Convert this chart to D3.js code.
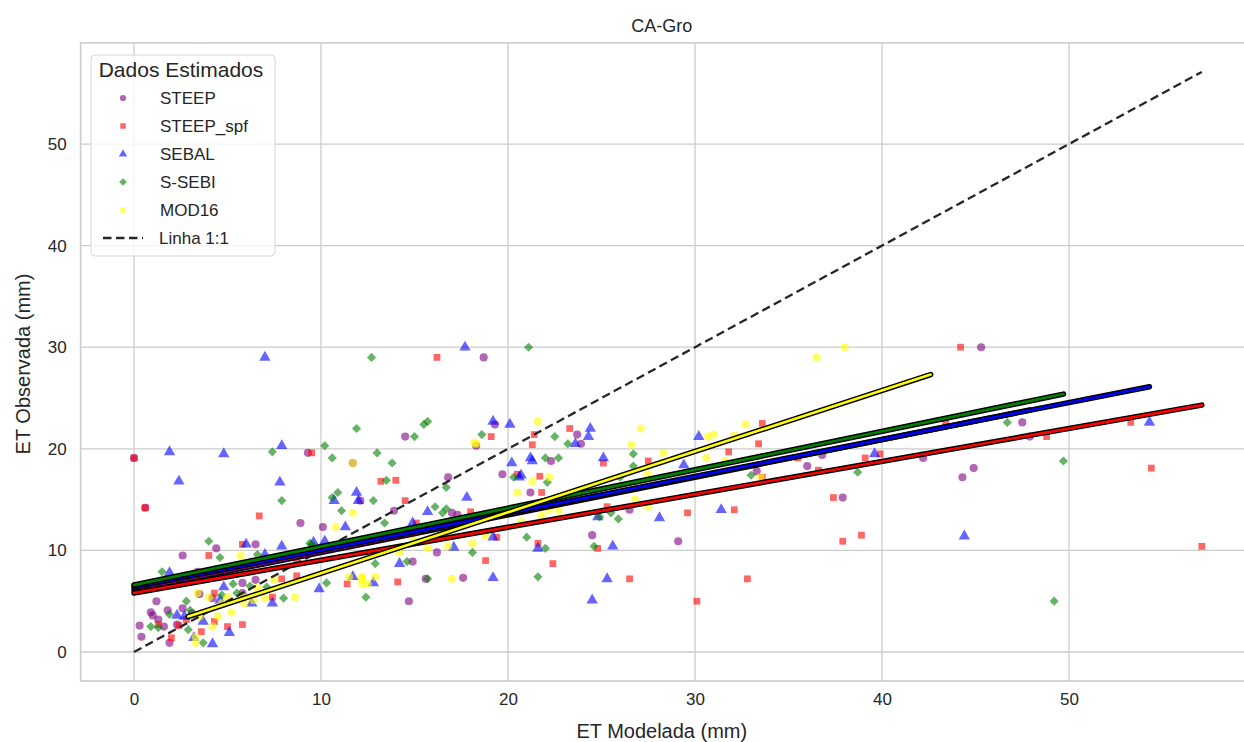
<!DOCTYPE html>
<html>
<head>
<meta charset="utf-8">
<script src="https://cdn.jsdelivr.net/npm/d3@7"></script>
<style>
  body { margin: 0; background: #fff; }
  text { font-family: "Liberation Sans", Arial, sans-serif; fill: #262626; }
</style>
</head>
<body>
<div class="chart"></div>
<script>
// ---------------- data ----------------
var seriesNames = ["STEEP", "STEEP_spf", "SEBAL", "S-SEBI", "MOD16"];
var seriesColors = ["purple", "red", "blue", "green", "yellow"];

var steep = [[0,19.1],[0.6,14.2],[18.7,29.0],[45.3,30.0],[47.5,22.6],[42.2,19.1],[44.9,18.1],[44.3,17.2],[47.9,21.2],
  [37.9,15.2],[36.0,18.3],[36.8,19.4],[29.1,10.9],[24.5,11.5],[33.3,17.8],[26.5,14.0],[23.9,20.5],[19.3,22.4],
  [14.5,21.2],[18.3,20.3],[9.3,19.6],[11.7,18.6],[12.1,14.9],[16.8,17.2],[19.7,17.5],[21.2,15.7],[22.3,18.8],
  [23.7,21.4],[13.9,13.9],[10.1,12.3],[8.9,12.7],[17.0,13.7],[17.3,13.5],[16.2,9.8],[17.6,7.3],[14.7,5.0],
  [15.6,7.2],[14.9,8.9],[6.5,10.6],[4.4,10.2],[2.6,9.5],[1.2,5.0],[0.9,3.9],[1.0,3.6],[0.3,2.6],[0.4,1.5],
  [1.9,0.9],[1.8,4.1],[2.6,4.3],[3.1,3.8],[3.5,5.7],[4.2,5.3],[5.8,5.8],[1.6,2.5],[2.3,2.7],[3.4,7.9],[5.8,6.8],
  [1.3,3.2],[6.5,7.1]];
var steepSpf = [[0,19.1],[0.6,14.2],[44.2,30.0],[53.3,22.6],[54.4,18.1],[48.8,21.2],[57.1,10.4],[43.4,22.6],
  [33.6,22.5],[33.4,20.5],[31.8,19.7],[27.5,18.8],[25.1,18.6],[39.1,19.1],[39.9,19.5],[36.6,17.9],[37.4,15.2],
  [37.9,10.9],[38.9,11.5],[29.6,13.7],[32.1,14.0],[26.5,7.2],[32.8,7.2],[30.1,5.0],[24.8,10.2],[25.3,14.3],
  [33.6,17.2],[35.5,19.1],[16.2,29.0],[9.5,19.6],[13.2,16.8],[14.0,16.9],[14.5,14.9],[19.1,21.2],[21.3,20.4],
  [21.4,21.4],[23.3,22.0],[21.8,15.7],[20.5,17.5],[21.7,17.3],[18.0,13.8],[15.1,12.7],[18.8,9.0],[22.4,8.7],
  [21.6,10.7],[19.4,11.3],[11.4,6.7],[14.1,6.9],[8.7,7.5],[6.7,13.4],[4.0,9.5],[5.8,10.6],[4.3,5.8],[7.9,7.2],
  [8.7,8.8],[1.3,2.7],[2.0,1.4],[3.6,2.0],[5.0,2.5],[2.4,2.6],[7.4,5.4],[4.3,3.0],[2.8,3.2],[5.8,2.7]];
var sebal = [[7.0,29.0],[1.9,19.7],[4.8,19.5],[7.9,20.3],[2.4,16.8],[7.8,16.7],[17.7,30.0],[19.2,22.7],[20.1,22.4],
  [24.4,22.0],[24.3,21.2],[23.6,20.5],[20.2,18.6],[20.7,17.4],[21.2,19.1],[21.3,18.8],[11.9,15.7],[10.7,14.9],
  [12.0,14.9],[17.8,15.2],[15.7,13.8],[14.9,12.7],[11.3,12.3],[19.2,11.3],[21.6,10.2],[17.1,10.3],[14.2,8.7],
  [19.2,7.3],[25.1,19.1],[29.4,18.4],[20.6,17.2],[28.1,13.2],[25.6,10.4],[25.3,7.2],[24.5,5.1],[24.8,13.3],
  [30.2,21.2],[39.6,19.5],[31.4,14.0],[54.3,22.6],[44.4,11.4],[1.9,7.8],[6.0,10.6],[7.9,10.4],[7.0,9.6],
  [4.8,6.4],[2.7,3.5],[6.3,4.8],[4.2,0.8],[3.7,3.0],[5.1,1.9],[7.4,4.8],[4.6,5.1],[2.3,3.6],[3.2,1.4],
  [10.2,10.9],[9.6,10.8],[11.7,7.4],[12.8,6.8],[9.9,6.2]];
var ssebi = [[7.4,19.7],[7.9,14.9],[12.7,29.0],[21.1,30.0],[11.9,22.0],[15.5,22.4],[15.7,22.7],[15.0,21.2],
  [18.6,21.4],[10.2,20.3],[10.6,19.1],[13.0,19.6],[13.8,18.6],[22.5,21.2],[23.2,20.5],[22.0,19.1],[22.7,19.1],
  [20.3,17.2],[22.1,16.7],[16.7,16.2],[13.5,16.9],[10.9,15.7],[10.6,15.2],[12.8,14.9],[11.1,13.9],[16.1,14.3],
  [16.5,13.7],[16.7,14.1],[13.4,12.7],[21.0,11.3],[22.0,10.2],[18.1,9.8],[21.6,7.4],[9.4,10.7],[14.6,8.9],
  [12.9,8.7],[26.7,19.5],[26.7,18.3],[25.9,13.1],[24.6,10.4],[33.0,17.4],[38.7,17.7],[25.5,13.7],[24.9,13.3],
  [26.0,17.2],[46.7,22.6],[49.7,18.8],[49.2,5.0],[12.4,5.4],[10.3,6.8],[15.7,7.2],[9.5,10.6],[4.0,10.9],
  [1.5,7.9],[4.6,9.3],[6.6,9.6],[2.8,5.0],[3.0,4.1],[5.3,6.7],[4.7,5.6],[1.9,3.7],[1.3,2.4],[0.9,2.5],
  [2.9,2.2],[3.7,0.9],[5.5,5.8],[6.2,6.5],[8.0,5.3],[7.1,6.4]];
var mod16 = [[38.0,30.0],[36.5,29.0],[27.1,22.0],[26.6,20.4],[32.7,22.4],[30.7,21.2],[31.0,21.4],[28.3,19.6],
  [30.6,19.1],[31.6,18.8],[27.5,17.5],[26.8,15.0],[27.5,14.3],[33.5,17.2],[32.1,21.3],[21.6,22.7],[18.2,20.6],
  [21.3,16.8],[22.2,17.2],[20.5,15.7],[22.2,14.0],[22.7,13.9],[21.8,13.4],[18.8,11.5],[18.1,10.7],[20.7,12.8],
  [18.3,20.5],[11.7,18.6],[11.7,13.7],[10.8,12.3],[15.7,10.2],[16.8,10.4],[14.9,11.3],[14.2,9.8],[12.9,7.4],
  [12.2,7.4],[11.5,7.4],[8.6,5.4],[12.2,7.2],[12.2,6.7],[12.5,6.7],[17.0,7.2],[5.7,9.5],[3.4,5.8],[4.0,5.4],
  [4.7,4.8],[5.2,3.9],[5.9,4.8],[6.4,5.1],[6.6,6.3],[7.0,5.3],[7.5,7.1],[3.3,1.5],[3.3,0.9],[4.2,2.5],
  [4.5,3.5],[3.5,3.5],[5.0,5.4],[5.8,5.4]];
var seriesData = [steep, steepSpf, sebal, ssebi, mod16];

// regression lines: intercept, slope, x range
var fitIntercept = [6.1, 5.8, 6.4, 6.6, 1.75];
var fitSlope = [0.37, 0.324, 0.363, 0.378, 0.60];
var fitStart = [0, 0, 0, 0, 2.9];
var fitEnd = [47.9, 57.1, 54.3, 49.7, 42.6];
var fitColors = ["purple", "red", "blue", "green", "yellow"];

var oneToOne = [0, 57.1];
var xTicks = [0, 10, 20, 30, 40, 50];
var yTicks = [0, 10, 20, 30, 40, 50];
var domainAll = [-2.855, 59.955];

// ---------------- svg setup ----------------
var svgWidth = 1244, svgHeight = 742;
var svg = d3.select(".chart").append("svg")
  .attr("width", svgWidth).attr("height", svgHeight);

var plotLeft = 80.6, plotRight = 1255.2, plotTop = 42.9, plotBottom = 681;
var x = d3.scaleLinear().domain(domainAll).range([plotLeft, plotRight]);
var y = d3.scaleLinear().domain(domainAll).range([plotBottom, plotTop]);

// grid
svg.append("g").selectAll("line").data(xTicks).enter().append("line")
  .attr("x1", d => x(d)).attr("x2", d => x(d))
  .attr("y1", plotTop).attr("y2", plotBottom)
  .attr("stroke", "#cccccc").attr("stroke-width", 1.3);
svg.append("g").selectAll("line").data(yTicks).enter().append("line")
  .attr("y1", d => y(d)).attr("y2", d => y(d))
  .attr("x1", plotLeft).attr("x2", plotRight)
  .attr("stroke", "#cccccc").attr("stroke-width", 1.3);

// spines
svg.append("rect")
  .attr("x", plotLeft).attr("y", plotTop)
  .attr("width", plotRight - plotLeft).attr("height", plotBottom - plotTop)
  .attr("fill", "none").attr("stroke", "#cccccc").attr("stroke-width", 1.6);

// tick labels via d3 axes (no domain / tick lines, seaborn style)
var xAxis = svg.append("g").attr("transform", `translate(0, ${plotBottom})`)
  .call(d3.axisBottom(x).tickValues(xTicks).tickSize(0).tickPadding(12));
var yAxis = svg.append("g").attr("transform", `translate(${plotLeft}, 0)`)
  .call(d3.axisLeft(y).tickValues(yTicks).tickSize(0).tickPadding(14));
[xAxis, yAxis].forEach(function (a) {
  a.select(".domain").remove();
  a.selectAll("text").attr("font-size", 17).attr("font-family", "Liberation Sans, Arial, sans-serif")
    .attr("fill", "#262626");
});

// markers
var symbolTypes = [d3.symbolCircle, d3.symbolSquare, d3.symbolTriangle, d3.symbolSquare, d3.symbolCircle];
var symbolSizes = [52, 46, 56, 42, 52];
var symbolRotate = [0, 0, 0, 45, 0];

function markerPath(i, size) {
  return d3.symbol().type(symbolTypes[i]).size(size)();
}

seriesData.forEach(function (data, i) {
  svg.append("g").selectAll("path").data(data).enter().append("path")
    .attr("d", markerPath(i, symbolSizes[i]))
    .attr("transform", d => `translate(${x(d[0])}, ${y(d[1])}) rotate(${symbolRotate[i]})`)
    .attr("fill", seriesColors[i])
    .attr("fill-opacity", 0.6);
});

// 1:1 line
svg.append("line")
  .attr("x1", x(oneToOne[0])).attr("y1", y(oneToOne[0]))
  .attr("x2", x(oneToOne[1])).attr("y2", y(oneToOne[1]))
  .attr("stroke", "#262626").attr("stroke-width", 2.3)
  .attr("stroke-dasharray", "8.5,4.5");

// regression lines: black outline then color
fitIntercept.forEach(function (b, i) {
  var x0 = fitStart[i], x1 = fitEnd[i];
  var pts = [[x0, b + fitSlope[i] * x0], [x1, b + fitSlope[i] * x1]];
  svg.append("line")
    .attr("x1", x(pts[0][0])).attr("y1", y(pts[0][1]))
    .attr("x2", x(pts[1][0])).attr("y2", y(pts[1][1]))
    .attr("stroke", "black").attr("stroke-width", 5.5).attr("stroke-linecap", "round");
  svg.append("line")
    .attr("x1", x(pts[0][0])).attr("y1", y(pts[0][1]))
    .attr("x2", x(pts[1][0])).attr("y2", y(pts[1][1]))
    .attr("stroke", fitColors[i]).attr("stroke-width", 2.6).attr("stroke-linecap", "round");
});

// title & axis titles
svg.append("text").attr("x", (plotLeft + 1243) / 2).attr("y", 32)
  .attr("text-anchor", "middle").attr("font-size", 18).text("CA-Gro");
svg.append("text").attr("x", (plotLeft + 1243) / 2).attr("y", 738)
  .attr("text-anchor", "middle").attr("font-size", 20).text("ET Modelada (mm)");
svg.append("text").attr("transform", "rotate(-90)")
  .attr("x", -364).attr("y", 30)
  .attr("text-anchor", "middle").attr("font-size", 20).text("ET Observada (mm)");

// legend
var legend = svg.append("g").attr("transform", "translate(91, 55)");
legend.append("rect").attr("width", 184).attr("height", 201).attr("rx", 4)
  .attr("fill", "#fff").attr("fill-opacity", 0.8)
  .attr("stroke", "#d6d6d6").attr("stroke-width", 1);
legend.append("text").attr("x", 90).attr("y", 22).attr("text-anchor", "middle")
  .attr("font-size", 21).text("Dados Estimados");
seriesNames.forEach(function (name, i) {
  var ly = 43 + i * 28;
  legend.append("path").attr("d", markerPath(i, 30))
    .attr("transform", `translate(32, ${ly}) rotate(${symbolRotate[i]})`)
    .attr("fill", seriesColors[i]).attr("fill-opacity", 0.6);
  legend.append("text").attr("x", 69).attr("y", ly + 6).attr("font-size", 17).text(name);
});
var lineY = 43 + 5 * 28;
legend.append("line").attr("x1", 12).attr("x2", 52).attr("y1", lineY).attr("y2", lineY)
  .attr("stroke", "#262626").attr("stroke-width", 2.3).attr("stroke-dasharray", "8.5,4.5");
legend.append("text").attr("x", 68).attr("y", lineY + 6).attr("font-size", 17).text("Linha 1:1");
</script>
</body>
</html>
